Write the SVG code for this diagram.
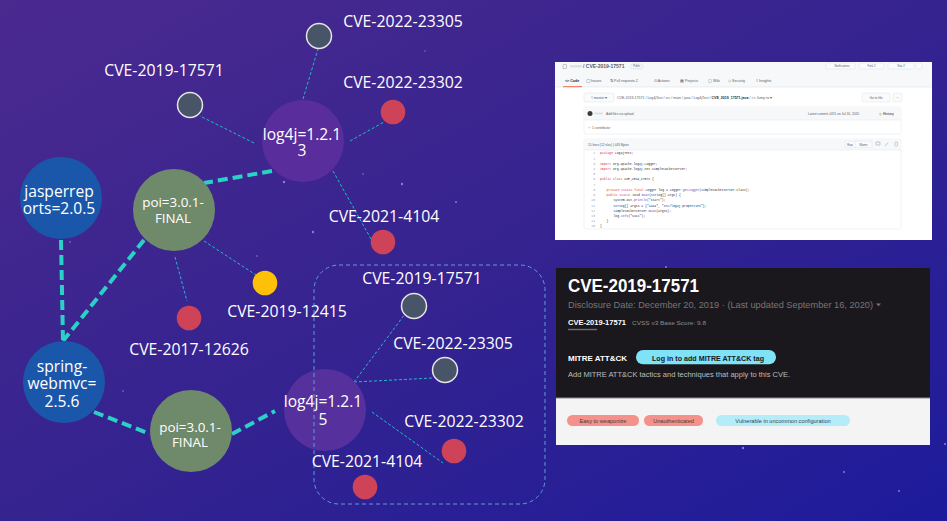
<svg xmlns="http://www.w3.org/2000/svg" width="947" height="521" viewBox="0 0 947 521">
<defs>
<linearGradient id="bg" x1="0" y1="0" x2="1" y2="1">
<stop offset="0" stop-color="#4b2a8f"/>
<stop offset="0.5" stop-color="#35238f"/>
<stop offset="1" stop-color="#1d1b9c"/>
</linearGradient>
<style>
.lbl{font-family:"Open Sans","Noto Sans",sans-serif;font-size:15.8px;fill:#fff;text-anchor:middle}
.nt{font-family:"Open Sans","Noto Sans",sans-serif;font-size:15.6px;fill:#fff;text-anchor:middle}
.nts{font-family:"Open Sans","Noto Sans",sans-serif;font-size:13.4px;fill:#fff;text-anchor:middle}
.thick{stroke:#2bd1c6;stroke-width:4;stroke-dasharray:10 5;fill:none}
.thin{stroke:#23b9c9;stroke-width:1;stroke-dasharray:3 2;fill:none}
.grey{fill:#485569;stroke:#e6e6e6;stroke-width:1.5}
.red{fill:#cf4358}
.yel{fill:#ffc107}
.purple{fill:#5a2d9c}
.blue{fill:#1a57aa}
.green{fill:#6f8a6b}
.star{fill:#9a86ff;opacity:0.85}
.gh{font-family:"Liberation Sans",Arial,sans-serif;fill:#586069}
.code{font-family:"Liberation Mono","Courier New",monospace;font-size:3.1px;fill:#24292e}
.kw{fill:#d73a49}
.fn{fill:#6f42c1}
.st{fill:#032f62}
.r7{font-family:"Liberation Sans",Arial,sans-serif}
</style>
</defs>
<rect width="947" height="521" fill="url(#bg)"/>
<g id="stars">
<circle class="star" cx="284" cy="182" r="1.2"/>
<circle class="star" cx="363" cy="174" r="0.8"/>
<circle class="star" cx="402" cy="184" r="1.2"/>
<circle class="star" cx="456" cy="202" r="1"/>
<circle class="star" cx="313" cy="232" r="1.2"/>
<circle class="star" cx="70" cy="242" r="0.8"/>
<circle class="star" cx="257" cy="256" r="0.8"/>
<circle class="star" cx="425" cy="51" r="0.7"/>
<circle class="star" cx="123" cy="391" r="0.8"/>
<circle class="star" cx="666" cy="267" r="1"/>
<circle class="star" cx="743" cy="448" r="1.2"/>
<circle class="star" cx="844" cy="472" r="1"/>
<circle class="star" cx="899" cy="491" r="1"/>
<circle class="star" cx="945" cy="444" r="1"/>
</g>
<g id="connectors">
<line class="thick" x1="272" y1="171" x2="204" y2="183"/>
<line class="thick" x1="144" y1="240" x2="63" y2="341"/>
<line class="thick" x1="61" y1="240" x2="63" y2="341"/>
<line class="thick" x1="94" y1="412" x2="150" y2="434"/>
<line class="thick" x1="232" y1="434" x2="275" y2="411"/>
<line class="thin" x1="303" y1="99" x2="318" y2="49"/>
<line class="thin" x1="254" y1="143" x2="200" y2="116"/>
<line class="thin" x1="350" y1="141" x2="384" y2="122"/>
<line class="thin" x1="333" y1="171" x2="371" y2="239"/>
<line class="thin" x1="175" y1="257" x2="187" y2="301"/>
<line class="thin" x1="204" y1="241" x2="256" y2="275"/>
<line class="thin" x1="354" y1="382" x2="405" y2="314"/>
<line class="thin" x1="354" y1="382" x2="433" y2="378"/>
<line class="thin" x1="372" y1="412" x2="443" y2="463"/>
</g>
<g id="n-log4j13"><circle class="purple" cx="303" cy="141" r="41"/><text class="nt" x="302" y="139.5">log4j=1.2.1</text><text class="nt" x="302" y="156">3</text></g>
<g id="n-jasper"><circle class="blue" cx="61" cy="198" r="41"/><text class="nt" x="59" y="197">jasperrep</text><text class="nt" x="59" y="213.5">orts=2.0.5</text></g>
<g id="n-poi1"><circle class="green" cx="174" cy="210" r="41"/><text class="nts" x="173" y="207">poi=3.0.1-</text><text class="nts" x="173" y="223">FINAL</text></g>
<g id="n-spring"><circle class="blue" cx="64" cy="382" r="41"/><text class="nt" x="62" y="372">spring-</text><text class="nt" x="62" y="389">webmvc=</text><text class="nt" x="62" y="406.5">2.5.6</text></g>
<g id="n-poi2"><circle class="green" cx="191" cy="431" r="41"/><text class="nts" x="190" y="432">poi=3.0.1-</text><text class="nts" x="190" y="447">FINAL</text></g>
<g id="n-log4j15"><circle fill="#56309d" cx="325" cy="410" r="41"/><text class="nt" x="323" y="407">log4j=1.2.1</text><text class="nt" x="323" y="425">5</text></g>
<g id="n-cve-2022-23305-a"><circle class="grey" cx="319" cy="36" r="12.5"/><text class="lbl" x="403" y="27">CVE-2022-23305</text></g>
<g id="n-cve-2019-17571-a"><circle class="grey" cx="190" cy="105" r="12.5"/><text class="lbl" x="164" y="76">CVE-2019-17571</text></g>
<g id="n-cve-2022-23302-a"><circle class="red" cx="393" cy="112" r="12.3"/><text class="lbl" x="403" y="88">CVE-2022-23302</text></g>
<g id="n-cve-2021-4104-a"><circle class="red" cx="383" cy="242" r="12.3"/><text class="lbl" x="384" y="221.5">CVE-2021-4104</text></g>
<g id="n-cve-2019-12415"><circle class="yel" cx="265" cy="283" r="12.3"/><text class="lbl" x="287" y="317">CVE-2019-12415</text></g>
<g id="n-cve-2017-12626"><circle class="red" cx="189" cy="318" r="12.3"/><text class="lbl" x="189" y="355">CVE-2017-12626</text></g>
<g id="group-box"><rect x="314" y="265" width="231" height="239" rx="25" fill="none" stroke="#5a9fd6" stroke-width="1" stroke-dasharray="4 3"/></g>
<g id="n-cve-2019-17571-b"><circle class="grey" cx="414" cy="306" r="12.5"/><text class="lbl" x="422" y="284">CVE-2019-17571</text></g>
<g id="n-cve-2022-23305-b"><circle class="grey" cx="445" cy="370" r="12.5"/><text class="lbl" x="453" y="349">CVE-2022-23305</text></g>
<g id="n-cve-2022-23302-b"><circle class="red" cx="454" cy="451" r="12.3"/><text class="lbl" x="464" y="427">CVE-2022-23302</text></g>
<g id="n-cve-2021-4104-b"><circle class="red" cx="365" cy="487" r="12.3"/><text class="lbl" x="367" y="467">CVE-2021-4104</text></g>

<g id="shot-github">
<rect x="555" y="62" width="377" height="178" fill="#ffffff"/>
<rect x="555" y="62" width="377" height="25" fill="#f6f8fa"/>
<line x1="555" y1="87" x2="932" y2="87" stroke="#e1e4e8" stroke-width="0.6"/>
<rect x="563" y="64.5" width="3.5" height="4" rx="0.6" fill="none" stroke="#8a8f96" stroke-width="0.5"/>
<rect x="570" y="65" width="12" height="2.5" rx="1" fill="#dde1e6"/>
<text class="gh" x="583" y="68.3" font-size="5" font-weight="bold" fill="#0366d6">/ CVE-2019-17571</text>
<rect x="630.5" y="64" width="12.5" height="4.8" rx="2.4" fill="none" stroke="#c8ccd1" stroke-width="0.4"/>
<text class="gh" x="636.7" y="67.4" font-size="2.6" text-anchor="middle">Public</text>
<rect x="826" y="63" width="29" height="6" rx="1" fill="#fafbfc" stroke="#d8dbe0" stroke-width="0.4"/>
<text class="gh" x="842" y="67" font-size="2.8" text-anchor="middle" fill="#24292e">Notifications</text>
<rect x="859" y="63" width="25" height="6" rx="1" fill="#fafbfc" stroke="#d8dbe0" stroke-width="0.4"/>
<text class="gh" x="871.5" y="67" font-size="2.8" text-anchor="middle" fill="#24292e">Fork  2</text>
<rect x="888" y="63" width="26" height="6" rx="1" fill="#fafbfc" stroke="#d8dbe0" stroke-width="0.4"/>
<text class="gh" x="901" y="67" font-size="2.8" text-anchor="middle" fill="#24292e">Star  2</text>
<rect x="916" y="63" width="6" height="6" rx="1" fill="#fafbfc" stroke="#d8dbe0" stroke-width="0.4"/>
<text class="gh" font-size="3.6" y="82.2"><tspan x="565" fill="#24292e" font-weight="bold">&lt;&gt; Code</tspan><tspan x="586">◯ Issues</tspan><tspan x="610">⇅ Pull requests  2</tspan><tspan x="654">⊙ Actions</tspan><tspan x="680">▦ Projects</tspan><tspan x="708">▢ Wiki</tspan><tspan x="728">◇ Security</tspan><tspan x="756">⌇ Insights</tspan></text>
<rect x="563" y="86" width="19" height="1.2" fill="#f9826c"/>
<rect x="584" y="93" width="30" height="9" rx="1.5" fill="#fafbfc" stroke="#d8dbe0" stroke-width="0.4"/>
<text class="gh" x="599" y="99" font-size="3.5" text-anchor="middle" fill="#24292e">ᛘ master ▾</text>
<text class="gh" x="617" y="99.3" font-size="3.55" fill="#0366d6">CVE-2019-17571<tspan fill="#586069"> / </tspan>Log4jTest<tspan fill="#586069"> / </tspan>src<tspan fill="#586069"> / </tspan>main<tspan fill="#586069"> / </tspan>java<tspan fill="#586069"> / </tspan>Log4jTest<tspan fill="#586069"> / </tspan><tspan fill="#24292e" font-weight="bold">CVE_2019_17571.java</tspan><tspan fill="#586069"> / &lt;&gt; Jump to ▾</tspan></text>
<rect x="862" y="93" width="28" height="9" rx="1.5" fill="#fafbfc" stroke="#d8dbe0" stroke-width="0.4"/>
<text class="gh" x="876" y="99" font-size="3.3" text-anchor="middle" fill="#24292e">Go to file</text>
<rect x="893" y="93" width="9" height="9" rx="1.5" fill="#fafbfc" stroke="#d8dbe0" stroke-width="0.4"/>
<text class="gh" x="897.5" y="98.5" font-size="3.5" text-anchor="middle">···</text>
<rect x="584" y="107" width="317" height="27" rx="1.5" fill="#ffffff" stroke="#e1e4e8" stroke-width="0.5"/>
<rect x="584.3" y="107.3" width="316.4" height="12.7" fill="#f6f8fa"/>
<line x1="584" y1="120" x2="901" y2="120" stroke="#e1e4e8" stroke-width="0.5"/>
<circle cx="590" cy="113.5" r="2.5" fill="#3a3a3a"/>
<rect x="594" y="112.5" width="9" height="2" rx="1" fill="#dde1e6"/>
<text class="gh" x="606" y="114.8" font-size="3.2">Add files via upload</text>
<text class="gh" x="808" y="114.8" font-size="3.2">Latest commit c5f11 on Jul 16, 2020</text>
<text class="gh" x="879" y="114.8" font-size="3.2" fill="#24292e">◷ <tspan font-weight="bold">History</tspan></text>
<text class="gh" x="588" y="128.6" font-size="3.3" fill="#24292e">⚇ 1 contributor</text>
<rect x="584" y="139" width="317" height="90" rx="1.5" fill="#ffffff" stroke="#e1e4e8" stroke-width="0.5"/>
<rect x="584.3" y="139.3" width="316.4" height="10.7" fill="#f6f8fa"/>
<line x1="584" y1="150" x2="901" y2="150" stroke="#e1e4e8" stroke-width="0.5"/>
<text class="gh" x="588" y="145.6" font-size="3.2" fill="#24292e">15 lines (12 sloc)   |   443 Bytes</text>
<rect x="845" y="141" width="27" height="6.5" rx="1" fill="#fafbfc" stroke="#d8dbe0" stroke-width="0.4"/>
<line x1="855" y1="141" x2="855" y2="147.5" stroke="#d8dbe0" stroke-width="0.4"/>
<text class="gh" x="850" y="145.5" font-size="2.8" text-anchor="middle" fill="#24292e">Raw</text>
<text class="gh" x="863.5" y="145.5" font-size="2.8" text-anchor="middle" fill="#24292e">Blame</text>
<rect x="876" y="142" width="4" height="3" rx="0.5" fill="none" stroke="#8a8f96" stroke-width="0.5"/>
<line x1="885" y1="146" x2="888" y2="142.5" stroke="#a0a5ab" stroke-width="0.6"/>
<rect x="895" y="142" width="2.5" height="4" rx="0.5" fill="none" stroke="#a0a5ab" stroke-width="0.5"/>
<g class="code">
<g fill="#959da5" text-anchor="end">
<text x="595" y="154.4">1</text><text x="595" y="159.6">2</text><text x="595" y="164.8">3</text><text x="595" y="170">4</text><text x="595" y="175.2">5</text><text x="595" y="180.4">6</text><text x="595" y="185.7">7</text><text x="595" y="190.9">8</text><text x="595" y="196.1">9</text><text x="595" y="201.3">10</text><text x="595" y="206.5">11</text><text x="595" y="211.7">12</text><text x="595" y="216.9">13</text><text x="595" y="222.1">14</text><text x="595" y="227.3">15</text>
</g>
<text x="600" y="154.4"><tspan class="kw">package</tspan> Log4jTest;</text>
<text x="600" y="164.8"><tspan class="kw">import</tspan> org.apache.log4j.Logger;</text>
<text x="600" y="170"><tspan class="kw">import</tspan> org.apache.log4j.net.SimpleSocketServer;</text>
<text x="600" y="180.4"><tspan class="kw">public class</tspan> CVE_2019_17571 {</text>
<text x="606.5" y="190.9"><tspan class="kw">private static final</tspan> Logger log = Logger.<tspan class="fn">getLogger</tspan>(SimpleSocketServer.class);</text>
<text x="606.5" y="196.1"><tspan class="kw">public static</tspan> void <tspan class="fn">main</tspan>(String[] args) {</text>
<text x="613.5" y="201.3">System.out.<tspan class="fn">println</tspan>(<tspan class="st">"start"</tspan>);</text>
<text x="613.5" y="206.5">String[] argss = {<tspan class="st">"4444"</tspan>, <tspan class="st">"src/log4j.properties"</tspan>};</text>
<text x="613.5" y="211.7">SimpleSocketServer.<tspan class="fn">main</tspan>(argss);</text>
<text x="613.5" y="216.9">log.<tspan class="fn">info</tspan>(<tspan class="st">"succ"</tspan>);</text>
<text x="606.5" y="222.1">}</text>
<text x="600" y="227.3">}</text>
</g>
</g>

<g id="shot-rapid7">
<rect x="556" y="268" width="374" height="130" fill="#1b181d"/>
<rect x="556" y="398" width="374" height="47" fill="#f4f4f4"/>
<line x1="556" y1="398" x2="930" y2="398" stroke="#8a8a8a" stroke-width="1"/>
<text class="r7" x="568" y="292" font-size="19" font-weight="bold" fill="#ffffff" textLength="131" lengthAdjust="spacingAndGlyphs">CVE-2019-17571</text>
<text class="r7" x="568" y="308" font-size="9.6" fill="#767676" textLength="305" lengthAdjust="spacingAndGlyphs">Disclosure Date: December 20, 2019 · (Last updated September 16, 2020)</text>
<path d="M876,303.5 L881,303.5 L878.5,306.3 Z" fill="#767676"/>
<text class="r7" x="568" y="325" font-size="7.6" font-weight="bold" fill="#ffffff" textLength="58" lengthAdjust="spacingAndGlyphs">CVE-2019-17571</text>
<text class="r7" x="632" y="324.5" font-size="6" fill="#8c8c8c" textLength="74" lengthAdjust="spacingAndGlyphs">CVSS v3 Base Score: 9.8</text>
<rect x="568" y="328.8" width="29" height="1.4" fill="#6e6e6e"/>
<text class="r7" x="568" y="361" font-size="7.6" font-weight="bold" fill="#ffffff" textLength="59" lengthAdjust="spacingAndGlyphs">MITRE ATT&amp;CK</text>
<rect x="636" y="350" width="140" height="14.3" rx="7.1" fill="#7fe2f6"/>
<text class="r7" x="652" y="360.5" font-size="7.2" font-weight="bold" fill="#1b181d" textLength="112" lengthAdjust="spacingAndGlyphs">Log in to add MITRE ATT&amp;CK tag</text>
<text class="r7" x="568" y="376.5" font-size="7.6" fill="#bdbdbd" textLength="222" lengthAdjust="spacingAndGlyphs">Add MITRE ATT&amp;CK tactics and techniques that apply to this CVE.</text>
<rect x="567" y="415" width="72" height="11" rx="5.5" fill="#f4918a"/>
<text class="r7" x="603" y="422.5" font-size="5.6" text-anchor="middle" fill="#4a3a3a">Easy to weaponize</text>
<rect x="644" y="415" width="59" height="11" rx="5.5" fill="#f4918a"/>
<text class="r7" x="673.5" y="422.5" font-size="5.6" text-anchor="middle" fill="#4a3a3a">Unauthenticated</text>
<rect x="716" y="415" width="134" height="11" rx="5.5" fill="#b5ecfa"/>
<text class="r7" x="783" y="422.5" font-size="5.6" text-anchor="middle" fill="#3a4448">Vulnerable in uncommon configuration</text>
</g>
</svg>
